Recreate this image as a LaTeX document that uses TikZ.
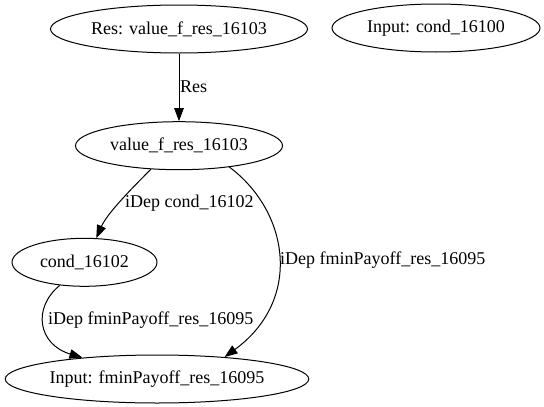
\documentclass[tikz,border=0pt]{standalone}
\usepackage{fontspec}
\setmainfont{Liberation Serif}
\usetikzlibrary{shapes.geometric,arrows.meta}
\begin{document}
\begin{tikzpicture}[x=1pt,y=-1pt,
  every node/.style={font=\fontsize{18}{20}\selectfont},
  ell/.style={ellipse,draw,line width=1pt,inner sep=0pt},
  edge/.style={draw,line width=1pt,-{Triangle[length=13pt,width=9.5pt]}},
  lbl/.style={inner sep=0pt}]
\useasboundingbox (0,0) rectangle (544,407);
\node[ell,minimum width=257pt,minimum height=48pt] (A) at (179,29) {Res: value\_f\_res\_16103};
\node[ell,minimum width=208pt,minimum height=48pt] (B) at (436,28) {Input: cond\_16100};
\node[ell,minimum width=207pt,minimum height=48pt] (C) at (179,145.7) {value\_f\_res\_16103};
\node[ell,minimum width=145pt,minimum height=48pt] (D) at (84.5,262.3) {cond\_16102};
\node[ell,minimum width=303pt,minimum height=48pt] (E) at (157,379) {Input: fminPayoff\_res\_16095};
\draw[edge] (A) -- (C);
\node[lbl,anchor=west] (lr) at (180,87) {Res};
\draw[edge] (C.-140) .. controls +(-18,18) and +(11,-25) .. (D.64);
\node[lbl,anchor=west] (l1) at (125,203) {iDep cond\_16102};
\draw[edge] (C.-23) .. controls +(60,45) and +(78,-57) .. (E.18);
\node[lbl,anchor=west] (l2) at (280,260) {iDep fminPayoff\_res\_16095};
\draw[edge] (D.-137) .. controls +(-28,23) and +(-44,-13) .. (E.164);
\node[lbl,anchor=west] (l3) at (48,320) {iDep fminPayoff\_res\_16095};
\end{tikzpicture}
\end{document}
